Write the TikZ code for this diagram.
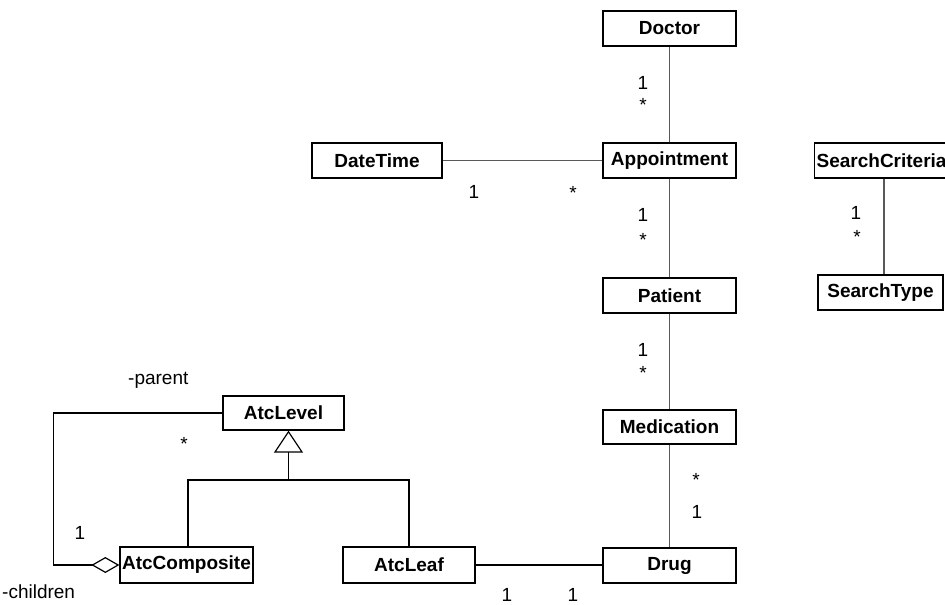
\documentclass[tikz,border=0pt]{standalone}
\usepackage{fontspec}
\setmainfont{Liberation Sans}
\usetikzlibrary{arrows.meta}
\begin{document}
\begin{tikzpicture}[x=1pt,y=-1pt,
  cls/.style={draw=black,line width=1.3pt,fill=white,inner sep=0pt,
    font=\bfseries\fontsize{19}{19}\selectfont,minimum width=133pt,minimum height=35pt},
  assoc/.style={draw=black!65,line width=1.3pt},
  link/.style={draw=black,line width=1.2pt},
  mult/.style={inner sep=0pt,anchor=base,font=\fontsize{19}{19}\selectfont},
  role/.style={inner sep=0pt,anchor=base west,font=\fontsize{19}{19}\selectfont}]
\clip (0,0) rectangle (945,605);
\fill[white] (0,0) rectangle (945,605);

% classes
\node[cls] (doctor) at (669.5,28.5) {Doctor};
\node[cls] (appt) at (669.5,160.5) {Appointment};
\node[cls] (patient) at (669.5,295.5) {Patient};
\node[cls,minimum height=34pt] (med) at (669.5,427) {Medication};
\node[cls] (drug) at (669.5,565.5) {Drug};
\node[cls,minimum width=130pt] (datetime) at (377,160.5) {DateTime};
\node[cls,anchor=west,text width=136pt,align=left,inner xsep=2pt] (crit) at (814,160.5) {SearchCriteria};
\node[cls,minimum width=125pt] (stype) at (880.5,292.5) {SearchType};
\node[cls,minimum width=121pt,minimum height=34pt] (level) at (283.5,413) {AtcLevel};
\node[cls,minimum height=36pt] (comp) at (186.5,565) {AtcComposite};
\node[cls,minimum width=132pt,minimum height=36pt] (leaf) at (409,565) {AtcLeaf};

% associations
\draw[assoc] (doctor) -- (appt);
\draw[assoc] (appt) -- (patient);
\draw[assoc] (patient) -- (med);
\draw[assoc] (med) -- (drug);
\draw[assoc] (datetime) -- (appt);
\draw[assoc] ([xshift=3.5pt]stype.north) -- ([xshift=3.5pt]stype.north |- crit.south);
\draw[link] (leaf.east) -- (leaf.east -| drug.west);

% generalization
\coordinate (genjoin) at (288.5,480);
\draw[link,-{Triangle[open,length=22pt,width=29pt]}] (genjoin) -- (genjoin |- level.south);
\draw[link] ([xshift=1.5pt]comp.north) |- (genjoin) -| (leaf.north);

% aggregation parent/children
\draw[link,{Diamond[open,length=28pt,width=16pt]}-] (comp.west) -- ++(-66,0) |- (level.west);

% multiplicities
\node[mult] (m1) at (643,89) {1};
\node[mult] (m2) at (643,111) {*};
\node[mult] (m3) at (643,221) {1};
\node[mult] (m4) at (643,246) {*};
\node[mult] (m5) at (643,356) {1};
\node[mult] (m6) at (643,379) {*};
\node[mult] (m7) at (696,486) {*};
\node[mult] (m8) at (697,518) {1};
\node[mult] (m9) at (474,198) {1};
\node[mult] (m10) at (573,199) {*};
\node[mult] (m11) at (856,219) {1};
\node[mult] (m12) at (857,243) {*};
\node[mult] (m13) at (507,601.5) {1};
\node[mult] (m14) at (573,601.5) {1};
\node[mult] (m15) at (184,450) {*};
\node[mult] (m16) at (80,539) {1};
\node[role] (parent) at (128,384) {-parent};
\node[role] (children) at (2,598) {-children};
\end{tikzpicture}
\end{document}
